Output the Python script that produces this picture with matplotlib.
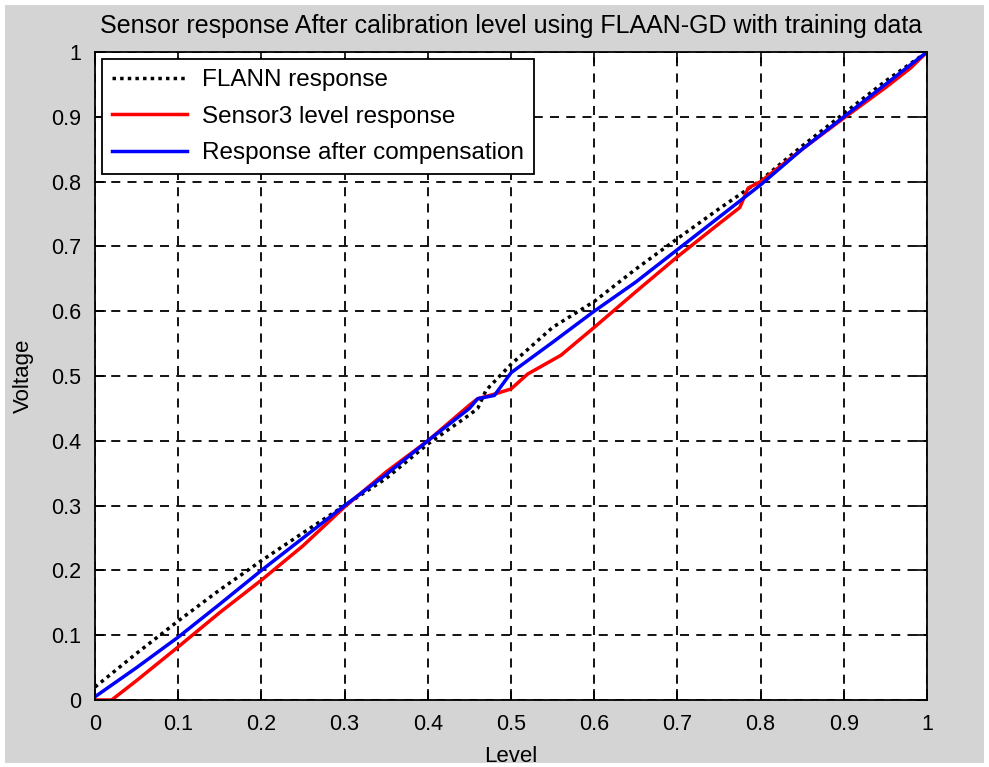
import matplotlib
matplotlib.use('Agg')
import matplotlib.pyplot as plt
from matplotlib.patches import Rectangle

# FLANN response (black dotted)
flann_x = [0, 0.05, 0.1, 0.15, 0.2, 0.25, 0.3, 0.35, 0.4, 0.45, 0.46, 0.47, 0.5,
           0.55, 0.6, 0.65, 0.7, 0.75, 0.8, 0.85, 0.9, 0.95, 1.0]
flann_y = [0.02, 0.072, 0.122, 0.17, 0.215, 0.258, 0.30, 0.342, 0.395, 0.44, 0.45,
           0.478, 0.518, 0.575, 0.615, 0.665, 0.712, 0.758, 0.802, 0.855, 0.905, 0.955, 1.0]

# Sensor3 level response (red)
sensor_x = [0, 0.02, 0.05, 0.1, 0.15, 0.2, 0.25, 0.3, 0.35, 0.4, 0.45, 0.46, 0.48,
            0.5, 0.52, 0.56, 0.6, 0.65, 0.7, 0.75, 0.775, 0.785, 0.8, 0.85, 0.9,
            0.95, 0.98, 1.0]
sensor_y = [0, 0, 0.03, 0.082, 0.135, 0.185, 0.238, 0.298, 0.352, 0.40, 0.455, 0.465,
            0.472, 0.48, 0.503, 0.532, 0.575, 0.63, 0.684, 0.735, 0.76, 0.79, 0.80,
            0.85, 0.898, 0.945, 0.975, 1.0]

# Response after compensation (blue)
comp_x = [0, 0.05, 0.1, 0.15, 0.2, 0.25, 0.3, 0.35, 0.4, 0.45, 0.46, 0.48, 0.5,
          0.55, 0.6, 0.65, 0.7, 0.75, 0.8, 0.85, 0.9, 0.95, 1.0]
comp_y = [0.005, 0.05, 0.097, 0.148, 0.20, 0.25, 0.30, 0.348, 0.40, 0.45, 0.465,
          0.47, 0.505, 0.552, 0.60, 0.645, 0.695, 0.745, 0.795, 0.85, 0.90, 0.95, 1.0]

ticks = [0, 0.1, 0.2, 0.3, 0.4, 0.5, 0.6, 0.7, 0.8, 0.9, 1]
tick_labels = ['0', '0.1', '0.2', '0.3', '0.4', '0.5', '0.6', '0.7', '0.8', '0.9', '1']

font = ['Liberation Sans', 'DejaVu Sans']
grey = '#d4d4d4'

fig = plt.figure(figsize=(9.89, 7.67), dpi=100, facecolor='white')
fig.patches.append(Rectangle((5 / 989, 4 / 767), 979 / 989, 758 / 767,
                             transform=fig.transFigure, facecolor=grey,
                             edgecolor='none', zorder=-10))
ax = fig.add_axes([95 / 989, 67 / 767, 832 / 989, 648 / 767])
ax.set_facecolor('white')

ax.plot(flann_x, flann_y, color='black', linestyle=(0, (1, 1.2)), linewidth=2.5,
        label='FLANN response')
ax.plot(sensor_x, sensor_y, color='red', linewidth=2.5, label='Sensor3 level response')
ax.plot(comp_x, comp_y, color='blue', linewidth=2.5, label='Response after compensation')

ax.set_xlim(0, 1)
ax.set_ylim(0, 1)
ax.set_xticks(ticks)
ax.set_yticks(ticks)
ax.set_xticklabels(tick_labels, family=font, fontsize=15.5)
ax.set_yticklabels(tick_labels, family=font, fontsize=15.5)
ax.tick_params(direction='in', length=8, width=1.2, top=True, right=True, pad=10)
ax.grid(True, color='black', linestyle=(0, (5, 4)), linewidth=1.3)
for s in ax.spines.values():
    s.set_linewidth(1.3)

ax.set_title('Sensor response After calibration level using FLAAN-GD with training data',
             family=font, fontsize=18, pad=14)
ax.set_xlabel('Level', family=font, fontsize=16, labelpad=8)
ax.set_ylabel('Voltage', family=font, fontsize=16, labelpad=12)

leg = ax.legend(loc='upper left', frameon=True, fancybox=False,
                borderaxespad=0.3, handlelength=3.1, labelspacing=0.6,
                borderpad=0.4, handletextpad=0.6,
                prop={'family': font, 'size': 17.5})
leg.get_frame().set_edgecolor('black')
leg.get_frame().set_linewidth(1.3)
leg.get_frame().set_alpha(1)

plt.savefig('out.png', dpi=100, facecolor=fig.get_facecolor())
plt.close()
